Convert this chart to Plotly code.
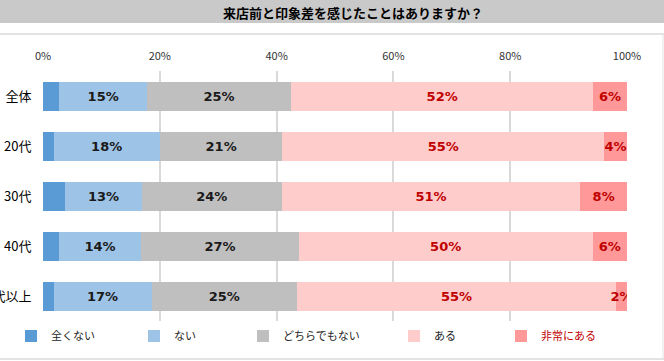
import plotly.graph_objects as go

categories = ["全体", "20代", "30代", "40代", "50代以上"]
series_names = ["全くない", "ない", "どちらでもない", "ある", "非常にある"]
v_zenkunai = [2.8, 1.8, 3.8, 2.7, 1.8]
v_nai = [15.0, 18.2, 13.1, 14.1, 16.8]
v_dochira = [24.7, 21.0, 24.0, 27.0, 24.9]
v_aru = [51.7, 55.1, 51.1, 50.3, 54.6]
v_hijou = [5.8, 3.9, 8.0, 5.9, 1.9]
tick_vals = [0, 20, 40, 60, 80, 100]
tick_text = ["0%", "20%", "40%", "60%", "80%", "100%"]
title_text = "来店前と印象差を感じたことはありますか？"

values = [v_zenkunai, v_nai, v_dochira, v_aru, v_hijou]
colors = ["#5b9bd5", "#9dc3e6", "#bfbfbf", "#ffcccc", "#ff9999"]
label_colors = [None, "#1a1a1a", "#1a1a1a", "#c00000", "#c00000"]
legend_text_colors = ["#262626", "#262626", "#262626", "#1a1a1a", "#c00000"]
legend_x_px = [11, 134, 243, 394, 501]

W, H = 664, 361
ML, MR, MT, MB = 43, 37, 71, 40
PW, PH = W - ML - MR, H - MT - MB
FONT = "Noto Sans CJK JP"
LABEL_FONT = "DejaVu Sans"

def px_x(x):
    return (x - ML) / PW

def px_y(y):
    return 1 - (y - MT) / PH

fig = go.Figure()
for i, (name, vals) in enumerate(zip(series_names, values)):
    show_text = label_colors[i] is not None
    fig.add_trace(go.Bar(
        y=categories, x=vals, name=name, orientation="h",
        marker=dict(color=colors[i], line=dict(width=0)),
        text=[f"{round(v)}%" for v in vals] if show_text else None,
        textposition="inside" if show_text else "none",
        insidetextanchor="middle",
        textangle=0,
        constraintext="none",
        textfont=dict(family=LABEL_FONT, size=13, color=label_colors[i] or "#000", weight="bold"),
        legend="legend" if i == 0 else f"legend{i+1}",
        showlegend=True,
        hoverinfo="skip",
    ))

legend_layouts = {}
for i in range(5):
    key = "legend" if i == 0 else f"legend{i+1}"
    legend_layouts[key] = dict(
        x=px_x(legend_x_px[i]), y=px_y(336), xanchor="left", yanchor="middle",
        orientation="h", bgcolor="rgba(0,0,0,0)",
        font=dict(family=FONT, size=11, color=legend_text_colors[i]),
        itemwidth=30, tracegroupgap=0,
    )

shapes = [
    dict(type="rect", xref="paper", yref="paper", x0=px_x(0), x1=px_x(W), y0=px_y(23), y1=px_y(0),
         fillcolor="#c9c9c9", line=dict(width=0), layer="below"),
    dict(type="line", xref="paper", yref="paper", x0=px_x(0), x1=px_x(W), y0=px_y(34), y1=px_y(34),
         line=dict(color="#e3e3e3", width=2)),
    dict(type="line", xref="paper", yref="paper", x0=px_x(0), x1=px_x(W), y0=px_y(359), y1=px_y(359),
         line=dict(color="#e3e3e3", width=2)),
    dict(type="line", xref="paper", yref="paper", x0=px_x(663), x1=px_x(663), y0=px_y(34), y1=px_y(359),
         line=dict(color="#e3e3e3", width=1)),
]

fig.update_layout(
    width=W, height=H,
    margin=dict(l=ML, r=MR, t=MT, b=MB, autoexpand=False),
    barmode="stack", bargap=0.42,
    showlegend=True,
    plot_bgcolor="white", paper_bgcolor="white",
    font=dict(family=FONT, size=11, color="#262626"),
    shapes=shapes,
    annotations=[dict(text=title_text, xref="paper", yref="paper", x=px_x(353), y=px_y(12),
                      xanchor="center", yanchor="middle", showarrow=False,
                      font=dict(family=FONT, size=13, color="#000", weight="bold"))],
    **legend_layouts,
)
fig.update_xaxes(range=[0, 100], side="top", tickvals=tick_vals, ticktext=tick_text,
                 showgrid=True, gridcolor="#d9d9d9", gridwidth=1.5, zeroline=False,
                 showline=False, ticks="outside", ticklen=6, tickcolor="rgba(0,0,0,0)",
                 tickfont=dict(family=FONT, size=11, color="#333333"), fixedrange=True,
                 automargin=False)
fig.update_yaxes(autorange="reversed", showgrid=False, zeroline=False, showline=False,
                 ticks="outside", ticklen=8, tickcolor="rgba(0,0,0,0)",
                 tickfont=dict(family=FONT, size=13, color="#000"), fixedrange=True,
                 automargin=False)

fig.write_html("out.html", config={"displayModeBar": False},
               post_script="document.body.style.margin='0';document.body.style.overflow='hidden';")
